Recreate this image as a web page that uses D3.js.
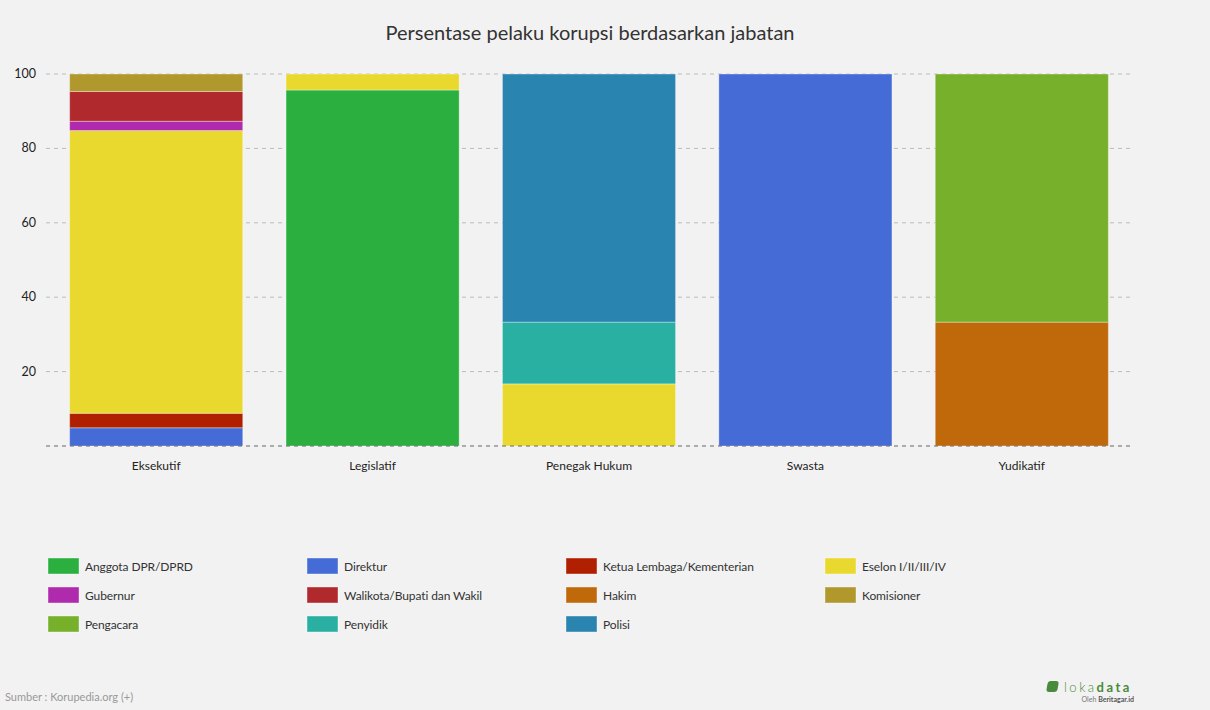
<!DOCTYPE html>
<html>
<head>
<meta charset="utf-8">
<script src="https://cdn.jsdelivr.net/npm/d3@7"></script>
<style>
  body { margin: 0; background: #f2f2f2; font-family: Lato, sans-serif; }
  svg { display: block; }
</style>
</head>
<body>
<div class="graphics"></div>
<script>
// data
const categories = ["Eksekutif", "Legislatif", "Penegak Hukum", "Swasta", "Yudikatif"];
const seriesNames = ["Direktur", "Ketua Lembaga/Kementerian", "Anggota DPR/DPRD", "Eselon I/II/III/IV",
  "Penyidik", "Hakim", "Gubernur", "Walikota/Bupati dan Wakil", "Komisioner", "Polisi", "Pengacara"];
const direktur   = [4.9, 0, 0, 100, 0];
const ketua      = [3.9, 0, 0, 0, 0];
const anggota    = [0, 95.7, 0, 0, 0];
const eselon     = [76.0, 4.3, 16.7, 0, 0];
const penyidik   = [0, 0, 16.6, 0, 0];
const hakim      = [0, 0, 0, 0, 33.3];
const gubernur   = [2.5, 0, 0, 0, 0];
const walikota   = [8.0, 0, 0, 0, 0];
const komisioner = [4.7, 0, 0, 0, 0];
const polisi     = [0, 0, 66.7, 0, 0];
const pengacara  = [0, 0, 0, 0, 66.7];
const yTicks = [20, 40, 60, 80, 100];

const legendOrder = ["Anggota DPR/DPRD", "Direktur", "Ketua Lembaga/Kementerian", "Eselon I/II/III/IV",
  "Gubernur", "Walikota/Bupati dan Wakil", "Hakim", "Komisioner", "Pengacara", "Penyidik", "Polisi"];

const colors = {
  "Anggota DPR/DPRD": "#2bb03f",
  "Direktur": "#456bd6",
  "Ketua Lembaga/Kementerian": "#b02000",
  "Eselon I/II/III/IV": "#e9d92e",
  "Gubernur": "#b02aad",
  "Walikota/Bupati dan Wakil": "#b0292d",
  "Hakim": "#c0690a",
  "Komisioner": "#b0982c",
  "Pengacara": "#77b02a",
  "Penyidik": "#2ab0a3",
  "Polisi": "#2a84b0"
};

const seriesValues = [direktur, ketua, anggota, eselon, penyidik, hakim, gubernur, walikota, komisioner, polisi, pengacara];
const table = categories.map((c, i) => {
  const row = { cat: c };
  seriesNames.forEach((s, j) => row[s] = seriesValues[j][i]);
  return row;
});

const width = 1210, height = 710;
const margin = { top: 74, right: 80, bottom: 264, left: 48 };

const svg = d3.select(".graphics").append("svg")
  .attr("width", width).attr("height", height);

svg.append("text")
  .attr("x", 590).attr("y", 40)
  .attr("text-anchor", "middle")
  .attr("font-size", 20)
  .attr("fill", "#333")
  .text("Persentase pelaku korupsi berdasarkan jabatan");

const x = d3.scaleBand().domain(categories)
  .range([margin.left, width - margin.right])
  .paddingInner(0.2).paddingOuter(0.1);

const y = d3.scaleLinear().domain([0, 100])
  .range([height - margin.bottom, margin.top]);

// grid
svg.append("g").selectAll("line")
  .data(yTicks)
  .join("line")
  .attr("x1", 46).attr("x2", 1130)
  .attr("y1", d => y(d)).attr("y2", d => y(d))
  .attr("stroke", "#bbb").attr("stroke-dasharray", "4,4");

svg.append("g").selectAll("text")
  .data(yTicks)
  .join("text")
  .attr("x", 36).attr("y", d => y(d) + 4)
  .attr("text-anchor", "end")
  .attr("font-size", 12.5)
  .attr("fill", "#222")
  .text(d => d);

const stack = d3.stack().keys(seriesNames)(table);

svg.append("g").selectAll("g")
  .data(stack)
  .join("g")
  .attr("fill", d => colors[d.key])
  .selectAll("rect")
  .data(d => d.filter(p => p[1] - p[0] > 0))
  .join("rect")
  .attr("x", d => x(d.data.cat))
  .attr("y", d => y(d[1]))
  .attr("height", d => y(d[0]) - y(d[1]))
  .attr("width", x.bandwidth())
  .attr("stroke", "rgba(255,255,255,0.35)")
  .attr("stroke-width", 1);

// baseline
svg.append("line")
  .attr("x1", 46).attr("x2", 1130)
  .attr("y1", y(0)).attr("y2", y(0))
  .attr("stroke", "#666").attr("stroke-dasharray", "4,4");

svg.append("g").selectAll("text")
  .data(categories)
  .join("text")
  .attr("x", d => x(d) + x.bandwidth() / 2)
  .attr("y", 470)
  .attr("text-anchor", "middle")
  .attr("font-size", 12)
  .attr("fill", "#222")
  .text(d => d);

// legend
const leg = svg.append("g").selectAll("g")
  .data(legendOrder)
  .join("g")
  .attr("transform", (d, i) => `translate(${48 + (i % 4) * 259},${558 + Math.floor(i / 4) * 29})`);

leg.append("rect")
  .attr("width", 31).attr("height", 16)
  .attr("fill", d => colors[d])
  .attr("stroke", "rgba(255,255,255,0.4)");

leg.append("text")
  .attr("x", 37).attr("y", 12.5)
  .attr("font-size", 12)
  .attr("letter-spacing", -0.1)
  .attr("fill", "#333")
  .text(d => d);

svg.append("text")
  .attr("x", 5).attr("y", 701)
  .attr("font-size", 11)
  .attr("fill", "#999")
  .text("Sumber : Korupedia.org (+)");

// logo
const logo = svg.append("g").attr("transform", "translate(1048,681)");
logo.append("rect").attr("x", 0).attr("y", 0).attr("width", 11).attr("height", 11)
  .attr("rx", 3).attr("fill", "#4a8a3c").attr("transform", "skewX(-10)");
logo.append("text").attr("x", 16).attr("y", 11)
  .attr("font-size", 13).attr("letter-spacing", 2.5).attr("fill", "#4a8a3c")
  .html('<tspan font-weight="300">loka</tspan><tspan font-weight="700">data</tspan>');
logo.append("text").attr("x", 86).attr("y", 21)
  .attr("text-anchor", "end").attr("font-size", 7).attr("fill", "#777")
  .html('Oleh <tspan font-weight="700" fill="#555">Beritagar.id</tspan>');
</script>
</body>
</html>
